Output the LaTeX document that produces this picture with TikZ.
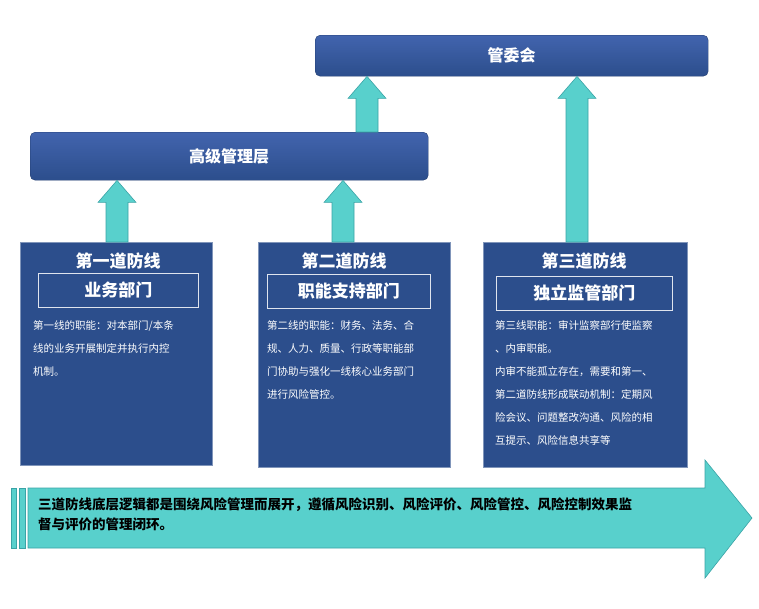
\documentclass[tikz,border=0pt]{standalone}
\usepackage{fontspec}
\setmainfont{Noto Sans CJK SC}
\usetikzlibrary{calc}
\definecolor{navy}{HTML}{2C4E8C}
\definecolor{navytop}{HTML}{4264AE}
\definecolor{tealfill}{HTML}{58D0CC}
\definecolor{tealline}{HTML}{3AA3A6}
\tikzset{
  topbox/.style={draw=navy!80!black, rounded corners=5pt, top color=navytop, bottom color=navy,
    text=white, font=\bfseries\fontsize{16}{18}\selectfont, anchor=north west, inner sep=0pt},
  linebox/.style={draw=navy!60!white, fill=navy, anchor=north west, inner sep=0pt},
  linetitle/.style={text=white, font=\bfseries\fontsize{17}{19}\selectfont},
  deptbox/.style={draw=white!85!navy, line width=0.8pt, text=white, inner sep=0pt,
    font=\bfseries\fontsize{17}{19}\selectfont, anchor=north west},
  dutytext/.style={text=white, font=\fontsize{10.5}{23}\selectfont, align=left, anchor=north west, inner sep=0pt},
  arrowfill/.style={fill=tealfill, draw=tealline, line width=0.6pt},
}
\newcommand\upblock[3]{%
  \path[arrowfill] let \p1=(#2.north), \p2=(#3.south) in
    ({#1pt-11pt},\y1) -- ({#1pt+11pt},\y1) -- ({#1pt+11pt},\y2-22pt) -- ({#1pt+19pt},\y2-22pt)
    -- ({#1pt},\y2) -- ({#1pt-19pt},\y2-22pt) -- ({#1pt-11pt},\y2-22pt) -- cycle;}
\begin{document}
\begin{tikzpicture}[x=1pt,y=-1pt]
\useasboundingbox (0,0) rectangle (759,608);

% top levels
\node[topbox, minimum width=393pt, minimum height=41pt] (board) at (315,35) {管委会};
\node[topbox, minimum width=398pt, minimum height=48pt] (senior) at (30,132) {高级管理层};

% three lines
\node[linebox, minimum width=192pt, minimum height=223pt] (line1) at (20,242) {};
\node[linebox, minimum width=192pt, minimum height=225pt] (line2) at (258,242) {};
\node[linebox, minimum width=204pt, minimum height=225pt] (line3) at (483,242) {};

\node[linetitle] (title1) at (118,261) {第一道防线};
\node[linetitle] (title2) at (344,261) {第二道防线};
\node[linetitle] (title3) at (584,261) {第三道防线};

\node[deptbox, minimum width=160pt, minimum height=34pt] (dept1) at (38,273) {业务部门};
\node[deptbox, minimum width=163pt, minimum height=34pt] (dept2) at (267,274) {职能支持部门};
\node[deptbox, minimum width=176pt, minimum height=34pt] (dept3) at (496,276) {独立监管部门};

\node[dutytext] (duty1) at (33,320) {第一线的职能：对本部门/本条\\线的业务开展制定并执行内控\\机制。};
\node[dutytext] (duty2) at (267,320) {第二线的职能：财务、法务、合\\规、人力、质量、行政等职能部\\门协助与强化一线核心业务部门\\进行风险管控。};
\node[dutytext] (duty3) at (495,320) {第三线职能：审计监察部行使监察\\、内审职能。\\内审不能孤立存在，需要和第一、\\第二道防线形成联动机制：定期风\\险会议、问题整改沟通、风险的相\\互提示、风险信息共享等};

% up arrows
\upblock{367}{senior}{board}
\upblock{577}{line3}{board}
\upblock{117}{line1}{senior}
\upblock{343}{line2}{senior}

% bottom arrow
\path[arrowfill] (28,488) -- (705,488) -- (705,460) -- (752,518) -- (705,578) -- (705,548) -- (28,548) -- cycle;
\path[arrowfill] (11,488) rectangle (16,548);
\path[arrowfill] (19,488) rectangle (25,548);
\node[anchor=north west, inner sep=0pt, align=left, font=\bfseries\fontsize{13.5}{20}\selectfont] (summary) at (38,498)
  {三道防线底层逻辑都是围绕风险管理而展开，遵循风险识别、风险评价、风险管控、风险控制效果监\\督与评价的管理闭环。};
\end{tikzpicture}
\end{document}
